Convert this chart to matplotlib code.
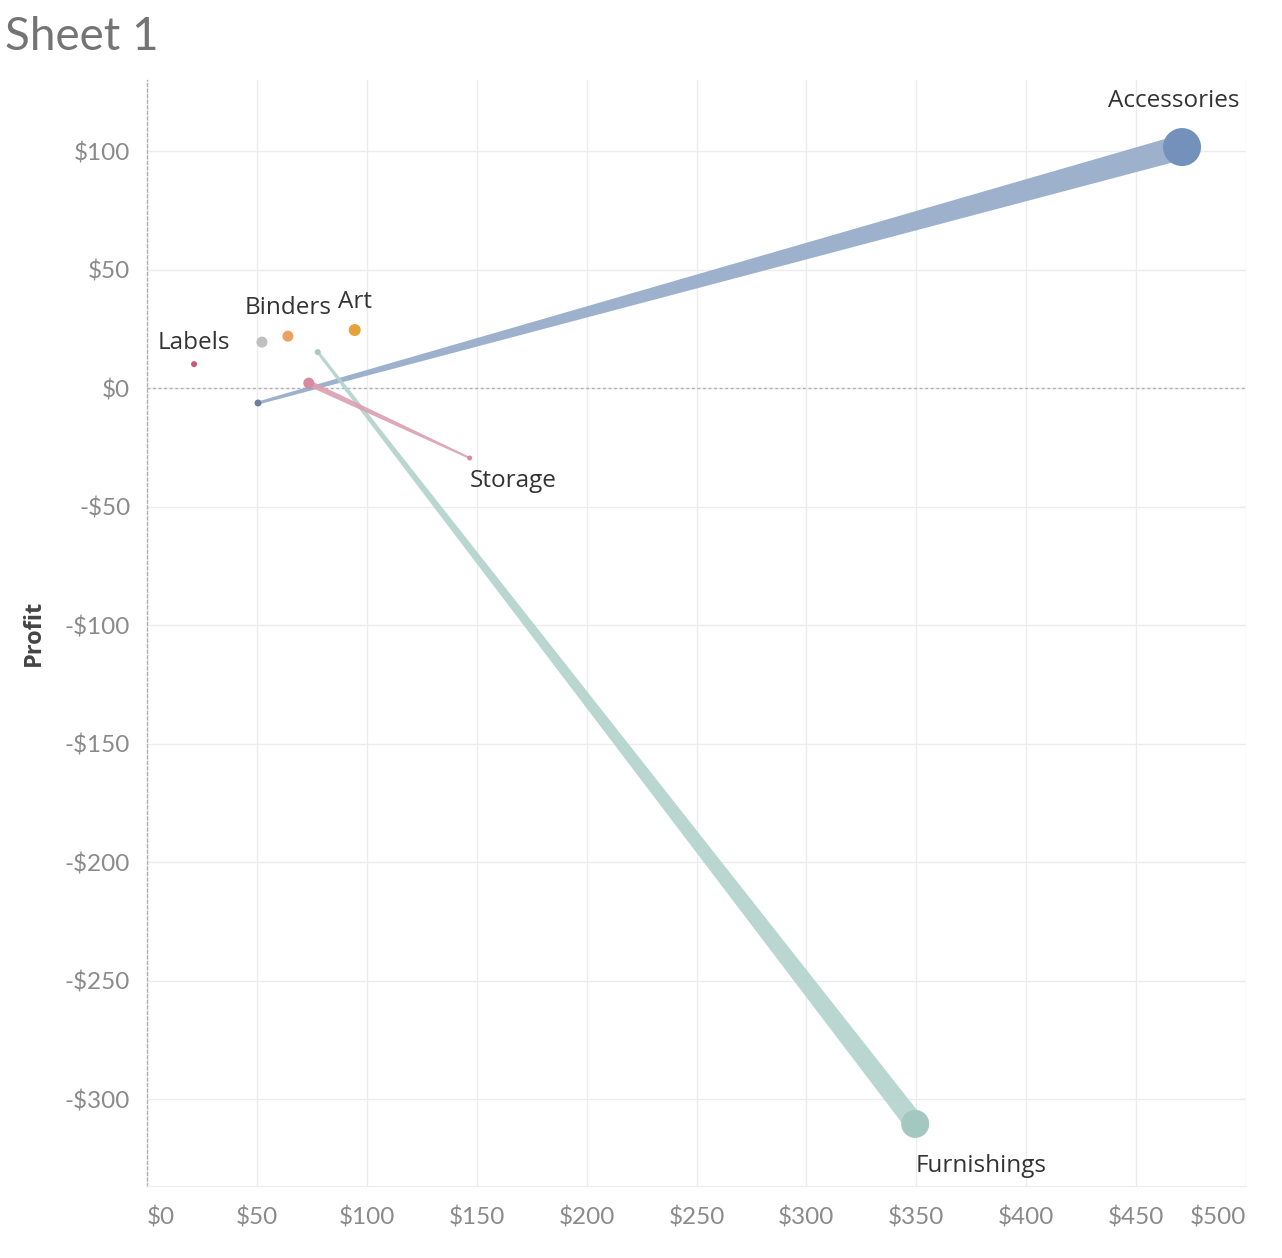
import numpy as np
import matplotlib
matplotlib.use("Agg")
import matplotlib.pyplot as plt
from matplotlib.patches import Polygon

# trails: start -> end (Sales, Profit)
trail_names = ["Accessories", "Furnishings", "Storage"]
trail_x0 = [50.5, 77.7, 73.6]
trail_y0 = [-6.3, 15.2, 2.1]
trail_x1 = [470.9, 349.5, 146.8]
trail_y1 = [101.7, -310.5, -29.5]

# single points
point_names = ["Labels", "", "Binders", "Art"]
point_x = [21.4, 52.3, 64.1, 94.5]
point_y = [10.1, 19.4, 21.9, 24.5]

x_ticks = [0, 50, 100, 150, 200, 250, 300, 350, 400, 450, 500]
y_ticks = [-300, -250, -200, -150, -100, -50, 0, 50, 100]


def money(v):
    return ("-$%d" % abs(v)) if v < 0 else ("$%d" % v)


def draw_trail(ax, x0, y0, x1, y1, w0, w1, color, alpha):
    # tapered band, widths in pixels, built in display space and mapped back
    p0 = ax.transData.transform((x0, y0))
    p1 = ax.transData.transform((x1, y1))
    d = p1 - p0
    n = np.array([-d[1], d[0]]) / np.hypot(*d)
    pts = np.array([p0 + n * w0 / 2, p1 + n * w1 / 2, p1 - n * w1 / 2, p0 - n * w0 / 2])
    pts = ax.transData.inverted().transform(pts)
    ax.add_patch(Polygon(pts, closed=True, facecolor=color, edgecolor="none",
                         alpha=alpha, zorder=3))


def main():
    fig = plt.figure(figsize=(12.82, 12.58), dpi=100)
    ax = fig.add_axes([147 / 1282, 1 - 1186 / 1258, 1099 / 1282, 1106 / 1258])
    ax.set_xlim(0, 500)
    ax.set_ylim(-336.7, 130)

    ax.set_xticks(x_ticks)
    ax.set_yticks(y_ticks)
    ax.set_xticklabels([money(v) for v in x_ticks], family="Lato", fontsize=17.5, color="#8a8a8a")
    ax.set_yticklabels([money(v) for v in y_ticks], family="Lato", fontsize=17.5, color="#8a8a8a")
    xl = ax.get_xticklabels()
    xl[0].set_ha("left")
    xl[-1].set_ha("right")
    ax.tick_params(length=0)
    ax.tick_params(axis="x", pad=15)
    ax.tick_params(axis="y", pad=12)

    ax.grid(True, color="#ececec", linewidth=1)
    ax.set_axisbelow(True)
    for s in ["top", "right"]:
        ax.spines[s].set_visible(False)
    ax.spines["bottom"].set_color("#ececec")
    ax.spines["left"].set_color("#b0b0b0")
    ax.spines["left"].set_linestyle((0, (2, 2)))
    ax.spines["left"].set_linewidth(1)
    ax.axhline(0, color="#b0b0b0", linestyle=(0, (2, 2)), linewidth=1, zorder=2)

    ax.set_ylabel("Profit", family="Open Sans", fontweight="bold", fontsize=17, color="#444444")
    ax.yaxis.set_label_coords(-0.092, 0.5)

    fig.text(5 / 1282, 1 - 37 / 1258, "Sheet 1", family="Lato", fontweight="normal",
             fontsize=33, color="#747474", va="center", ha="left")

    # trail styles
    widths = [(3, 25), (3, 20), (6, 2)]
    band_colors = ["#93a9c8", "#b2d2cb", "#dc9fb1"]
    start_colors = ["#6e7f98", "#a9c6bf", "#d98aa0"]
    end_colors = ["#7391ba", "#a3c8c0", "#d98aa0"]
    start_size = [7, 6, 11]
    end_size = [38, 28, 5]
    for i in range(len(trail_names)):
        draw_trail(ax, trail_x0[i], trail_y0[i], trail_x1[i], trail_y1[i],
                   widths[i][0], widths[i][1], band_colors[i], 0.9)
        ax.scatter([trail_x0[i]], [trail_y0[i]], s=(start_size[i] * 0.72) ** 2,
                   color=start_colors[i], edgecolors="none", zorder=4)
        ax.scatter([trail_x1[i]], [trail_y1[i]], s=(end_size[i] * 0.72) ** 2,
                   color=end_colors[i], edgecolors="none", zorder=4)

    label_style = dict(family="Open Sans", fontsize=17.5, color="#333333",
                       textcoords="offset pixels", zorder=5)
    ax.annotate("Accessories", (trail_x1[0], trail_y1[0]), xytext=(-8, 46),
                ha="center", va="center", **label_style)
    ax.annotate("Furnishings", (trail_x1[1], trail_y1[1]), xytext=(0, -42),
                ha="left", va="center", **label_style)
    ax.annotate("Storage", (trail_x1[2], trail_y1[2]), xytext=(0, -23),
                ha="left", va="center", **label_style)

    point_colors = ["#c95b78", "#bfbfbf", "#e9a25f", "#e8a23a"]
    point_size = [6, 11, 11, 12]
    label_lift = [21, 0, 28, 28]
    for i in range(len(point_names)):
        ax.scatter([point_x[i]], [point_y[i]], s=(point_size[i] * 0.72) ** 2,
                   color=point_colors[i], edgecolors="none", zorder=4)
        if point_names[i]:
            ax.annotate(point_names[i], (point_x[i], point_y[i]), xytext=(0, label_lift[i]),
                        ha="center", va="center", **label_style)

    fig.savefig("out.png", dpi=100)


if __name__ == "__main__":
    main()
